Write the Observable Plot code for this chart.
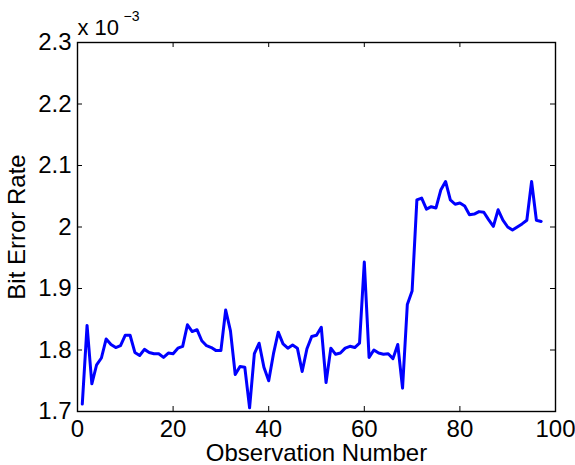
<!DOCTYPE html>
<html>
<head>
<meta charset="utf-8">
<script src="https://cdn.jsdelivr.net/npm/d3@7"></script>
<script src="https://cdn.jsdelivr.net/npm/@observablehq/plot@0.6"></script>
<style>
  html, body { margin: 0; padding: 0; background: #fff; }
  #chart svg { display: block; }
</style>
</head>
<body>
<div id="chart"></div>
<script>
// Bit error rate (in units of 1e-3) for observations 1..97
const berValues = [
  1.712, 1.840, 1.745, 1.776, 1.787, 1.818, 1.809, 1.804, 1.807, 1.824,
  1.824, 1.796, 1.791, 1.801, 1.796, 1.794, 1.794, 1.788, 1.795, 1.794,
  1.803, 1.806, 1.841, 1.830, 1.833, 1.815, 1.807, 1.804, 1.799, 1.799,
  1.865, 1.831, 1.760, 1.773, 1.772, 1.706, 1.794, 1.811, 1.772, 1.750,
  1.794, 1.829, 1.810, 1.803, 1.808, 1.803, 1.765, 1.802, 1.822, 1.824,
  1.837, 1.747, 1.803, 1.793, 1.795, 1.803, 1.806, 1.804, 1.811, 1.943,
  1.788, 1.800, 1.795, 1.793, 1.794, 1.786, 1.809, 1.738, 1.874, 1.896,
  2.044, 2.047, 2.029, 2.033, 2.031, 2.060, 2.074, 2.044, 2.037, 2.039,
  2.034, 2.020, 2.021, 2.025, 2.024, 2.012, 2.001, 2.028, 2.011, 2.000,
  1.995, 2.000, 2.005, 2.011, 2.074, 2.011, 2.009
];
const xTicks = [0, 20, 40, 60, 80, 100];
const yTicks = [1.7, 1.8, 1.9, 2.0, 2.1, 2.2, 2.3];
const xLabel = "Observation Number";
const yLabel = "Bit Error Rate";
const scaleBase = "x 10";
const scaleExp = "\u22123";

const data = berValues.map((v, i) => ({obs: i + 1, ber: v}));

const font = "'Liberation Sans', Arial, Helvetica, sans-serif";
const plotH = 465 - 42 - 54; // inner frame height
const plotW = 575 - 77 - 20;
const tickLen = 5;

const chart = Plot.plot({
  width: 575,
  height: 465,
  marginLeft: 77,
  marginRight: 20,
  marginTop: 42,
  marginBottom: 54,
  style: {fontFamily: font, fontSize: "24px", color: "#000", background: "#fff"},
  x: {domain: [0, 100]},
  y: {domain: [1.7, 2.3]},
  marks: [
    Plot.line(data, {x: "obs", y: "ber", stroke: "#0000ff", strokeWidth: 3, clip: true}),
    // inward ticks on all four sides
    Plot.tickX(xTicks, {x: d => d, insetTop: plotH - tickLen, stroke: "#000"}),
    Plot.tickX(xTicks, {x: d => d, insetBottom: plotH - tickLen, stroke: "#000"}),
    Plot.tickY(yTicks, {y: d => d, insetRight: plotW - tickLen, stroke: "#000"}),
    Plot.tickY(yTicks, {y: d => d, insetLeft: plotW - tickLen, stroke: "#000"}),
    Plot.frame({stroke: "#000", strokeWidth: 1.4}),
    Plot.axisX(xTicks, {
      tickSize: 0, tickPadding: 8, fontSize: 24,
      label: xLabel, labelAnchor: "center", labelOffset: 49, labelArrow: "none"
    }),
    Plot.axisY(yTicks, {
      tickSize: 0, tickPadding: 6, fontSize: 24,
      tickFormat: d => d3.format(".1~f")(d),
      label: yLabel, labelAnchor: "center", labelOffset: 70, labelArrow: "none"
    }),
    Plot.text([scaleBase], {
      frameAnchor: "top-left", text: d => d, textAnchor: "start",
      lineAnchor: "bottom", dy: -8, fontSize: 22
    }),
    Plot.text([scaleExp], {
      frameAnchor: "top-left", text: d => d, textAnchor: "start",
      lineAnchor: "bottom", dx: 46, dy: -22, fontSize: 14
    })
  ]
});

document.getElementById("chart").appendChild(chart);
</script>
</body>
</html>
